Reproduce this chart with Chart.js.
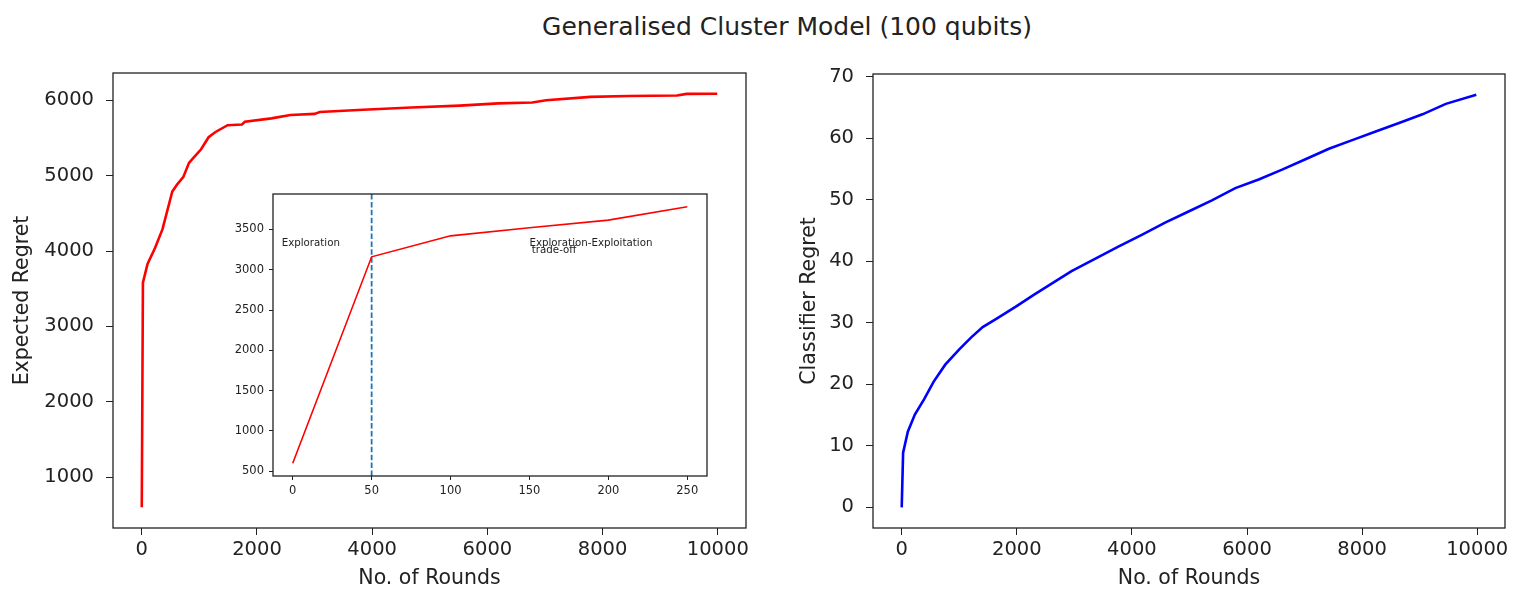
<!DOCTYPE html>
<html>
<head>
<meta charset="utf-8">
<title>Generalised Cluster Model (100 qubits)</title>
<script src="https://cdn.jsdelivr.net/npm/chart.js@4.4.1/dist/chart.umd.min.js"></script>
<style>
html,body{margin:0;padding:0;background:#fff;}
#wrap{position:relative;width:1526px;height:607px;overflow:hidden;font-family:"DejaVu Sans",sans-serif;}
#title{position:absolute;left:787px;top:12px;transform:translateX(-50%);font-size:25px;line-height:30px;color:#222;white-space:nowrap;}
canvas{position:absolute;}
#left{left:0;top:60px;}
#right{left:760px;top:60px;}
#inset{left:200px;top:180px;}
</style>
</head>
<body>
<div id="wrap">
  <div id="title">Generalised Cluster Model (100 qubits)</div>
  <canvas id="left" width="760" height="547"></canvas>
  <canvas id="right" width="766" height="547"></canvas>
  <canvas id="inset" width="520" height="320"></canvas>
</div>
<script>
// expected regret (left panel)
const regretX = [0, 20, 100, 230, 360, 530, 610, 720, 820, 900, 1030, 1160, 1280, 1490, 1740, 1790, 2250, 2580, 3000, 3090, 3840, 4680, 5520, 6190, 6780, 7020, 7790, 8450, 9290, 9460, 9990];
const regretY = [600, 3580, 3830, 4040, 4290, 4790, 4880, 4980, 5170, 5240, 5350, 5510, 5580, 5670, 5680, 5715, 5760, 5805, 5820, 5845, 5875, 5905, 5930, 5960, 5970, 6000, 6045, 6058, 6063, 6085, 6088];
// classifier regret (right panel)
const clsX = [0, 24, 106, 228, 390, 553, 756, 1000, 1203, 1407, 1650, 1976, 2301, 2626, 2951, 3358, 3764, 4171, 4577, 4984, 5390, 5797, 6203, 6610, 7016, 7423, 7829, 8236, 8642, 9049, 9455, 9984];
const clsY = [0, 8.9, 12.3, 15.1, 17.6, 20.4, 23.2, 25.7, 27.6, 29.3, 30.7, 32.6, 34.6, 36.5, 38.4, 40.4, 42.4, 44.3, 46.3, 48.1, 49.9, 51.9, 53.3, 54.9, 56.6, 58.3, 59.7, 61.1, 62.5, 63.9, 65.6, 67.1];
// inset: first 250 rounds
const insetX = [0, 50, 100, 150, 200, 250];
const insetY = [600, 3160, 3420, 3520, 3615, 3780];
const splitRound = 50;

const roundTicks = [0, 2000, 4000, 6000, 8000, 10000];
const regretTicks = [1000, 2000, 3000, 4000, 5000, 6000];
const clsTicks = [0, 10, 20, 30, 40, 50, 60, 70];
const insetXTicks = [0, 50, 100, 150, 200, 250];
const insetYTicks = [500, 1000, 1500, 2000, 2500, 3000, 3500];

const notes = [
  {text: "Exploration", x: -7, y: 3300},
  {text: "Exploration-Exploitation", x: 150, y: 3300},
  {text: "trade-off", x: 151.5, y: 3210}
];

const FONT = "DejaVu Sans";
const INK = "#222";

function pts(xs, ys){ return xs.map((x,i)=>({x, y:ys[i]})); }
function padRange(lo, hi){ const m=(hi-lo)*0.05; return [lo-m, hi+m]; }

const frame = {
  id: "frame",
  beforeDraw(c){
    const a=c.chartArea, ctx=c.ctx;
    ctx.save(); ctx.fillStyle="#fff"; ctx.fillRect(a.left,a.top,a.right-a.left,a.bottom-a.top); ctx.restore();
  },
  afterDraw(c){
    const a=c.chartArea, ctx=c.ctx;
    ctx.save(); ctx.strokeStyle=INK; ctx.lineWidth=1.3;
    ctx.strokeRect(a.left,a.top,a.right-a.left,a.bottom-a.top); ctx.restore();
  }
};

function axis(o){
  return {
    type:"linear", position:o.pos, min:o.min, max:o.max,
    afterBuildTicks: s=>{ s.ticks = o.ticks.map(v=>({value:v})); },
    afterFit: s=>{
      if(o.pos==="left") s.width=o.size; else s.height=o.size;
      // keep the plot box exactly where the layout padding puts it
      s.paddingTop=0; s.paddingBottom=0; s.paddingLeft=0; s.paddingRight=0;
    },
    border:{display:false},
    grid:{display:true, drawOnChartArea:false, drawTicks:true, tickLength:o.tickLen, color:INK, lineWidth:1},
    ticks:{color:INK, padding:o.pad, font:{family:FONT, size:o.font}, maxRotation:0, autoSkip:false, callback:v=>String(v)},
    title: o.title ? {display:true, text:o.title, color:INK, font:{family:FONT, size:20.5, lineHeight:1.2}, padding:o.titlePad} : {display:false}
  };
}

function lineChart(id, datasets, xs, ys, layoutPad, extra){
  return new Chart(document.getElementById(id), {
    type:"line",
    data:{datasets},
    options:{
      responsive:false, animation:false, events:[],
      layout:{padding:layoutPad},
      plugins:{legend:{display:false}, tooltip:{enabled:false}},
      elements:{point:{radius:0}, line:{tension:0}},
      scales:{x:axis(xs), y:axis(ys)}
    },
    plugins:[frame].concat(extra||[])
  });
}

const [rLo, rHi] = padRange(Math.min(...regretY), Math.max(...regretY));
const [xLo, xHi] = padRange(0, Math.max(...regretX));
lineChart("left",
  [{data:pts(regretX, regretY), borderColor:"#ff0000", borderWidth:2.6, fill:false}],
  {pos:"bottom", min:xLo, max:xHi, ticks:roundTicks, font:19.5, tickLen:7, pad:3, size:79, title:"No. of Rounds", titlePad:{top:0,bottom:16}},
  {pos:"left", min:rLo, max:rHi, ticks:regretTicks, font:19.5, tickLen:7, pad:12, size:113, title:"Expected Regret", titlePad:{top:10,bottom:0}},
  {left:0, top:13, right:14, bottom:0});

const [cLo, cHi] = padRange(Math.min(...clsY), Math.max(...clsY));
const [cxLo, cxHi] = padRange(0, Math.max(...clsX));
lineChart("right",
  [{data:pts(clsX, clsY), borderColor:"#0000ff", borderWidth:2.6, fill:false}],
  {pos:"bottom", min:cxLo, max:cxHi, ticks:roundTicks, font:19.5, tickLen:7, pad:3, size:79, title:"No. of Rounds", titlePad:{top:0,bottom:16}},
  {pos:"left", min:cLo, max:cHi, ticks:clsTicks, font:19.5, tickLen:7, pad:12, size:113, title:"Classifier Regret", titlePad:{top:37,bottom:0}},
  {left:0, top:14, right:21, bottom:0});

const [iLo, iHi] = padRange(Math.min(...insetY), Math.max(...insetY));
const [ixLo, ixHi] = padRange(0, Math.max(...insetX));
const noteText = {
  id:"notes",
  afterDatasetsDraw(c){
    const ctx=c.ctx, sx=c.scales.x, sy=c.scales.y;
    ctx.save(); ctx.fillStyle=INK; ctx.font="10.25px "+FONT; ctx.textAlign="left"; ctx.textBaseline="alphabetic";
    notes.forEach(n=>ctx.fillText(n.text, sx.getPixelForValue(n.x), sy.getPixelForValue(n.y)));
    ctx.restore();
  }
};
lineChart("inset",
  [
    {data:pts(insetX, insetY), borderColor:"#ff0000", borderWidth:1.6, fill:false},
    {data:[{x:splitRound, y:iLo}, {x:splitRound, y:iHi}], borderColor:"#1f77b4", borderWidth:1.8, borderDash:[5.5,2.4], fill:false}
  ],
  {pos:"bottom", min:ixLo, max:ixHi, ticks:insetXTicks, font:11.5, tickLen:4, pad:4, size:24, title:null},
  {pos:"left", min:iLo, max:iHi, ticks:insetYTicks, font:11.5, tickLen:4, pad:5, size:73, title:null},
  {left:0, top:14, right:13, bottom:0},
  [noteText]);
</script>
</body>
</html>
